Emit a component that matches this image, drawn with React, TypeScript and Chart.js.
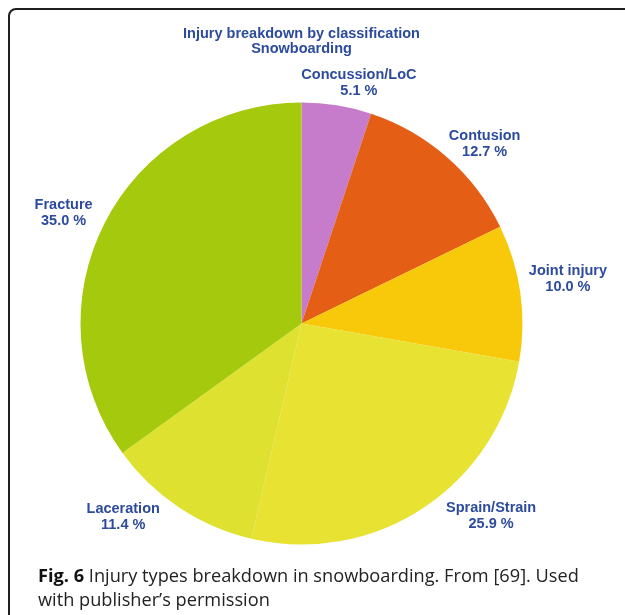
import React, { useEffect, useRef } from "react";
import { Chart, registerables } from "chart.js";

Chart.register(...registerables);

const categories = ["Concussion/LoC", "Contusion", "Joint injury", "Sprain/Strain", "Laceration", "Fracture"];
const percentages = [5.1, 12.7, 10.0, 25.9, 11.4, 35.0];
const sliceColors = ["#C67CCB", "#E45E15", "#F8C90B", "#E8E233", "#DFE130", "#A4C90D"];
const titleLines = ["Injury breakdown by classification", "Snowboarding"];
const captionBold = "Fig. 6";
const captionLine1 = " Injury types breakdown in snowboarding. From [69]. Used";
const captionLine2 = "with publisher\u2019s permission";

const labelPlugin = {
  id: "sliceLabels",
  afterDraw(chart: any, _args: any, opts: any) {
    const { ctx } = chart;
    const meta = chart.getDatasetMeta(0);
    ctx.save();
    ctx.fillStyle = opts.color;
    ctx.font = opts.font;
    ctx.textAlign = "center";
    ctx.textBaseline = "alphabetic";
    meta.data.forEach((arc: any, i: number) => {
      const p = arc.getProps(["x", "y", "startAngle", "endAngle", "outerRadius"], true);
      const mid = (p.startAngle + p.endAngle) / 2;
      const r = p.outerRadius + opts.gap;
      const n = opts.nudges[i] || [0, 0];
      const x = p.x + Math.cos(mid) * r + n[0];
      const y = p.y + Math.sin(mid) * r + n[1];
      ctx.fillText(categories[i], x, y - opts.lineGap / 2);
      ctx.fillText(percentages[i].toFixed(1) + " %", x, y + opts.lineGap / 2);
    });
    const cx = (chart.chartArea.left + chart.chartArea.right) / 2;
    titleLines.forEach((t, k) => {
      ctx.fillText(t, cx, opts.titleBaseline + k * opts.titleLineGap);
    });
    ctx.restore();
  },
};

export default function App() {
  const canvasRef = useRef<HTMLCanvasElement | null>(null);

  useEffect(() => {
    document.documentElement.style.overflow = "hidden";
    const canvas = canvasRef.current;
    if (!canvas) return;
    const chart = new Chart(canvas, {
      type: "pie",
      data: {
        labels: categories,
        datasets: [
          {
            data: percentages,
            backgroundColor: sliceColors,
            borderWidth: 0,
          },
        ],
      },
      options: {
        responsive: false,
        animation: false,
        layout: { padding: { left: 72.5, right: 94.5, top: 94.5, bottom: 23.5 } },
        plugins: {
          legend: { display: false },
          tooltip: { enabled: false },
          title: { display: false },
          sliceLabels: {
            color: "#2C4B9C",
            font: "bold 14.5px 'Liberation Sans', Arial, sans-serif",
            gap: 45,
            lineGap: 16,
            titleBaseline: 29.7,
            titleLineGap: 15,
            nudges: [
              [15, 26],
              [8, 25],
              [3, -3],
              [43, -25],
              [-31, -24],
              [-1, 15],
            ],
          },
        } as any,
      },
      plugins: [labelPlugin],
    });
    return () => chart.destroy();
  }, []);

  return (
    <div
      style={{
        position: "fixed",
        left: 0,
        top: 0,
        width: 625,
        height: 615,
        overflow: "hidden",
        background: "#fff",
      }}
    >
      <div
        style={{
          position: "absolute",
          left: 8,
          top: 8,
          width: 700,
          height: 700,
          border: "2px solid #1e1e1e",
          borderRadius: 8,
          boxSizing: "border-box",
        }}
      />
      <canvas
        ref={canvasRef}
        width={609}
        height={560}
        style={{ position: "absolute", left: 8, top: 8, width: 609, height: 560 }}
      />
      <div
        style={{
          position: "absolute",
          left: 38,
          top: 563,
          fontFamily: "'Open Sans', sans-serif",
          fontSize: 18.2,
          lineHeight: "24px",
          color: "#222",
          whiteSpace: "nowrap",
        }}
      >
        <span style={{ fontWeight: 700, color: "#111" }}>{captionBold}</span>
        {captionLine1}
        <br />
        {captionLine2}
      </div>
    </div>
  );
}
